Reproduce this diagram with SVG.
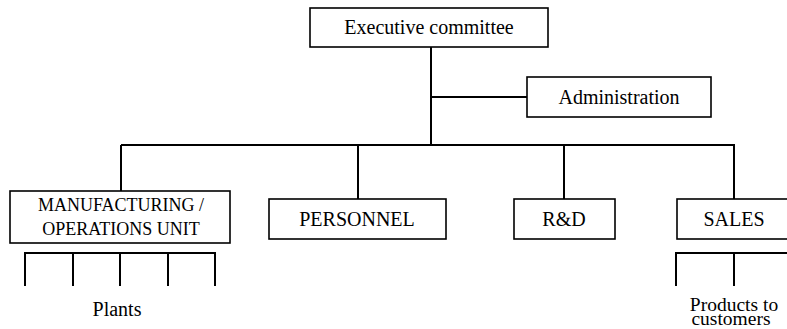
<svg xmlns="http://www.w3.org/2000/svg" width="787" height="329" viewBox="0 0 787 329">
<style>
.box{fill:#fff;stroke:#000;stroke-width:1.6}
.ln{fill:none;stroke:#000;stroke-width:2}
.t{font-family:'Liberation Serif','Times New Roman','DejaVu Serif',serif;font-size:20px;fill:#000;text-anchor:middle}
.s{font-size:18px}
.p{font-size:19.5px}
</style>
<rect width="787" height="329" fill="#fff"/>
<g id="connectors">
<path class="ln" d="M431 47V145M431 97H527M121 145H735M121 145V191M358 145V199M564 145V199M734 145V199"/>
<path class="ln" d="M25 286V253H215V286M73 253V286M120 253V286M168 253V286"/>
<path class="ln" d="M676 286V253H790M734 253V286"/>
</g>
<g id="exec"><rect class="box" x="310" y="8" width="238" height="39"/><text class="t" x="429" y="34">Executive committee</text></g>
<g id="admin"><rect class="box" x="527" y="77" width="184" height="40"/><text class="t" x="619" y="104">Administration</text></g>
<g id="mfg"><rect class="box" x="10" y="191" width="220" height="52"/><text class="t s" x="121" y="211">MANUFACTURING /</text><text class="t s" x="121" y="235">OPERATIONS UNIT</text></g>
<g id="personnel"><rect class="box" x="269" y="199" width="177" height="40"/><text class="t" x="357" y="226">PERSONNEL</text></g>
<g id="rd"><rect class="box" x="514" y="199" width="101" height="40"/><text class="t" x="564" y="226">R&amp;D</text></g>
<g id="sales"><rect class="box" x="677" y="199" width="115" height="40"/><text class="t" x="734" y="226">SALES</text></g>
<g id="plants"><text class="t" x="117" y="316">Plants</text></g>
<g id="products"><text class="t p" x="734" y="311">Products to</text><text class="t p" x="731" y="325">customers</text></g>
</svg>
